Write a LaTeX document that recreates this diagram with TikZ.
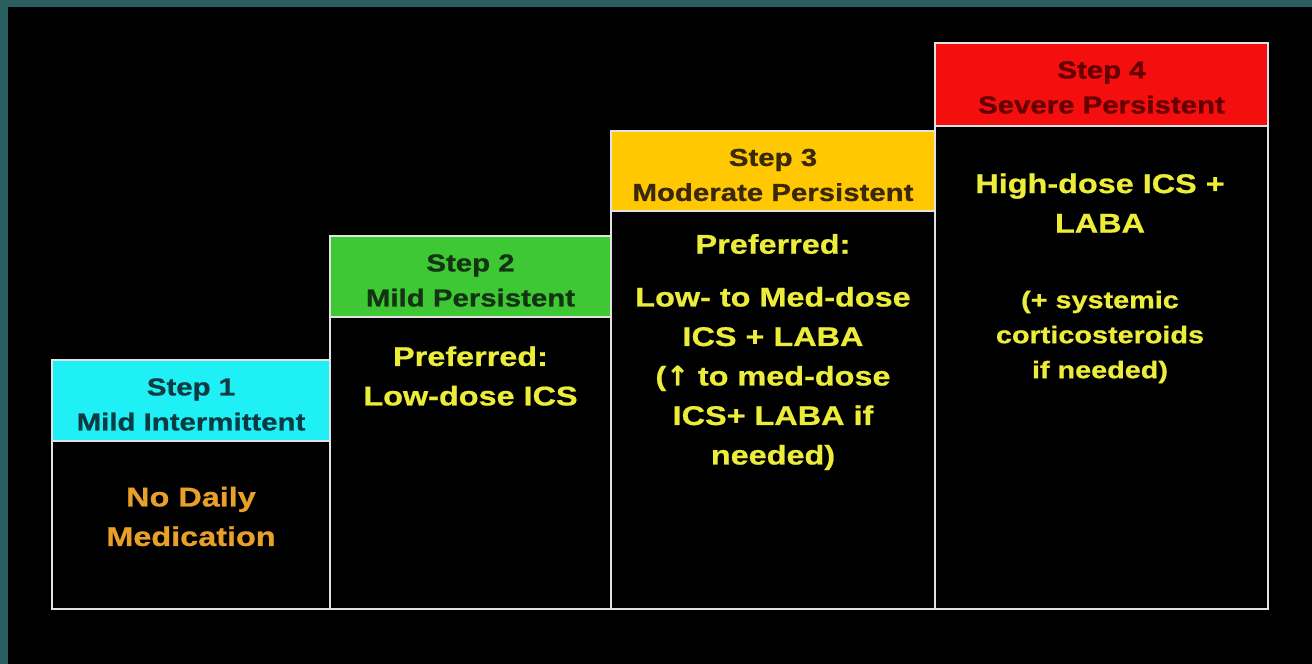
\documentclass[tikz,border=0pt]{standalone}
\usepackage{fontspec}
\setmainfont{Liberation Sans}
\newfontfamily\slidefont[FakeStretch=1.2,FakeBold=0.8]{Liberation Sans}
\newfontfamily\arrowfont[FakeBold=0.6]{DejaVu Sans}

% slide palette
\definecolor{frameteal}{RGB}{43,94,96}
\definecolor{edgegrey}{RGB}{226,226,226}
\definecolor{bodyyellow}{RGB}{236,236,58}
\definecolor{bodyorange}{RGB}{232,160,40}
\definecolor{fillcyan}{RGB}{30,240,245}
\definecolor{fillgreen}{RGB}{62,200,52}
\definecolor{fillyellow}{RGB}{255,200,0}
\definecolor{fillred}{RGB}{245,14,14}
\definecolor{inkcyan}{RGB}{14,58,66}
\definecolor{inkgreen}{RGB}{20,50,20}
\definecolor{inkyellow}{RGB}{58,40,8}
\definecolor{inkred}{RGB}{100,0,0}

\begin{document}
\begin{tikzpicture}[x=1pt,y=-1pt,
  box/.style={draw=edgegrey, line width=2pt, rectangle, anchor=north west,
    inner sep=0pt, outer sep=0pt},
  header/.style={box, fill=#1},
  headertext/.style={align=center, inner sep=0pt,
    font={\fontsize{24.5}{35}\selectfont\slidefont\bfseries}},
  body/.style={box, fill=black},
  bodytext/.style={align=center, inner sep=0pt, text=bodyyellow,
    font={\fontsize{27}{39.5}\selectfont\slidefont\bfseries}},
  notetext/.style={bodytext, font={\fontsize{24}{35}\selectfont\slidefont\bfseries}}
]
% canvas with the teal frame on the left and top
\useasboundingbox (0,0) rectangle (1312,664);
\fill[black] (0,0) rectangle (1312,664);
\fill[frameteal] (0,0) rectangle (1312,7);
\fill[frameteal] (0,0) rectangle (8,664);

% step bodies
\node[body, minimum width=278pt, minimum height=168pt] (b1) at (52,441) {};
\node[body, minimum width=281pt, minimum height=292pt] (b2) at (330,317) {};
\node[body, minimum width=324pt, minimum height=398pt] (b3) at (611,211) {};
\node[body, minimum width=333pt, minimum height=483pt] (b4) at (935,126) {};

% step headers
\node[header=fillcyan, minimum width=278pt, minimum height=81pt] (h1) at (52,360) {};
\node[header=fillgreen, minimum width=281pt, minimum height=81pt] (h2) at (330,236) {};
\node[header=fillyellow, minimum width=324pt, minimum height=80pt] (h3) at (611,131) {};
\node[header=fillred, minimum width=333pt, minimum height=83pt] (h4) at (935,43) {};

\node[headertext, text=inkcyan] (s1) at ([yshift=-4pt]h1.center) {Step 1\\Mild Intermittent};
\node[headertext, text=inkgreen] (s2) at ([yshift=-4pt]h2.center) {Step 2\\Mild Persistent};
\node[headertext, text=inkyellow] (s3) at ([yshift=-4pt]h3.center) {Step 3\\Moderate Persistent};
\node[headertext, text=inkred] (s4) at ([yshift=-3pt]h4.center) {Step 4\\Severe Persistent};

% treatment texts
\node[bodytext, text=bodyorange] (t1) at (191,516.5) {No Daily\\Medication};
\node[bodytext] (t2) at (470.5,376) {Preferred:\\Low-dose ICS};
\node[bodytext] (p3) at (773,244) {Preferred:};
\node[bodytext] (t3) at (773,378.5)
  {Low- to Med-dose\\ICS + LABA\\({\arrowfont↑} to med-dose\\ICS+ LABA if\\needed)};
\node[bodytext] (t4) at (1100,203) {High-dose ICS +\\LABA};
\node[notetext] (n4) at (1100,337) {(+ systemic\\corticosteroids\\if needed)};
\end{tikzpicture}
\end{document}
